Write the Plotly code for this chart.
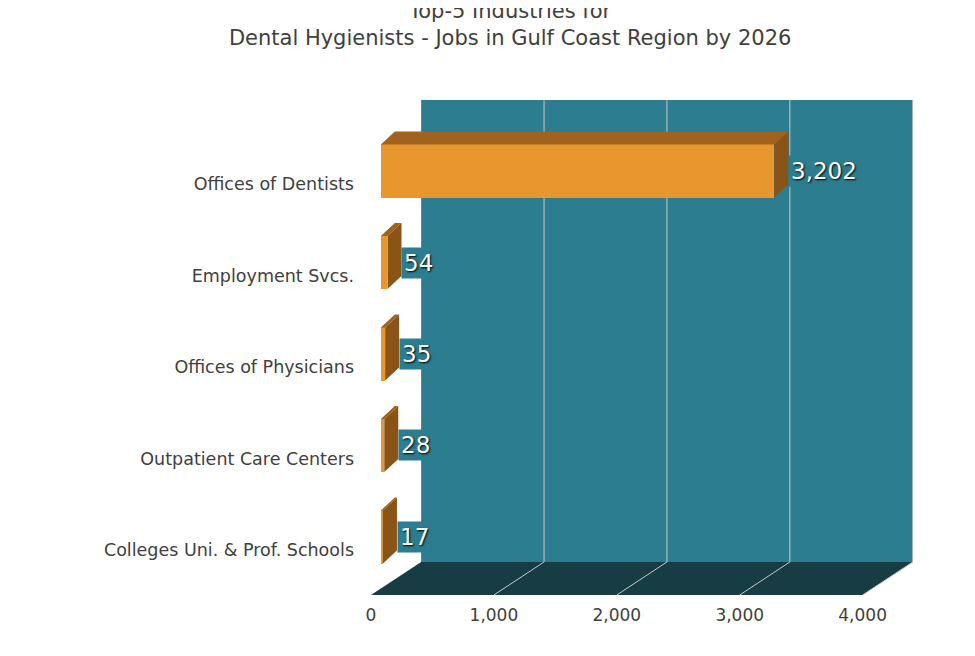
import plotly.graph_objects as go

categories = ["Offices of Dentists", "Employment Svcs.", "Offices of Physicians",
              "Outpatient Care Centers", "Colleges Uni. & Prof. Schools"]
values = [3202, 54, 35, 28, 17]
x_ticks = [0, 1000, 2000, 3000, 4000]
x_tick_labels = ["0", "1,000", "2,000", "3,000", "4,000"]

ORANGE = "#e8962e"; DARK = "#a0621c"; WALL = "#2c7d8f"; FLOOR = "#173c44"
FONT = "DejaVu Sans"

n = len(categories)
ypos = [n - 1 - i for i in range(n)]
WX, FY_BACK, FY_FRONT, YTOP = 408, -0.273, -0.634, 4.776
DX, DY, BW = 114, 0.142, 0.58

fig = go.Figure()
fig.add_trace(go.Bar(x=values, y=ypos, orientation="h", width=BW, base=80,
                     marker=dict(color=ORANGE, line=dict(width=0)), hoverinfo="skip"))

shapes = []
shapes.append(dict(type="rect", xref="x", yref="y", x0=WX, x1=4410, y0=FY_BACK, y1=YTOP,
                   fillcolor=WALL, line=dict(width=0), layer="below"))
shapes.append(dict(type="path", xref="x", yref="y",
                   path=f"M 0 {FY_FRONT} L 4000 {FY_FRONT} L 4410 {FY_BACK} L {WX} {FY_BACK} Z",
                   fillcolor=FLOOR, line=dict(width=0), layer="below"))
for t in x_ticks[1:]:
    shapes.append(dict(type="line", xref="x", yref="y", x0=t + WX, x1=t + WX, y0=FY_BACK, y1=YTOP,
                       line=dict(color="#c8c8c8", width=1), layer="below"))
    shapes.append(dict(type="line", xref="x", yref="y", x0=t, x1=t + WX, y0=FY_FRONT, y1=FY_BACK,
                       line=dict(color="#c8c8c8", width=1), layer="below"))
annotations = []
for v, y in zip(values, ypos):
    top, bot = y + BW / 2, y - BW / 2
    x0, x1 = 80, 80 + v
    shapes.append(dict(type="path", xref="x", yref="y",
                       path=f"M {x0} {top} L {x0+DX} {top+DY} L {x1+DX} {top+DY} L {x1} {top} Z",
                       fillcolor=DARK, line=dict(width=0)))
    shapes.append(dict(type="path", xref="x", yref="y",
                       path=f"M {x1} {top} L {x1+DX} {top+DY} L {x1+DX} {bot+DY} L {x1} {bot} Z",
                       fillcolor="#8a5416", line=dict(width=0)))
    annotations.append(dict(x=x1 + DX, y=y, xref="x", yref="y", xanchor="left", showarrow=False,
                            text=f"{v:,}", bgcolor=WALL, borderpad=2,
                            font=dict(family=FONT, size=23, color="white", shadow="1px 1px 2px black")))

fig.update_layout(
    width=975, height=656, paper_bgcolor="white", plot_bgcolor="white",
    margin=dict(l=363, r=70, t=92, b=69),
    title=dict(text="Top-5 Industries for<br>Dental Hygienists - Jobs in Gulf Coast Region by 2026",
               x=0.515, xanchor="center", y=0.985, yanchor="top",
               font=dict(family=FONT, size=21, color="#404040")),
    xaxis=dict(range=[0, 4410], tickvals=x_ticks, ticktext=x_tick_labels, showgrid=False,
               zeroline=False, showline=False, ticks="", ticklabelstandoff=8,
               tickfont=dict(family=FONT, size=17, color="#404040")),
    yaxis=dict(range=[FY_FRONT, YTOP], tickvals=[y - 0.142 for y in ypos], ticktext=categories,
               showgrid=False, zeroline=False, showline=False, ticks="", ticklabelstandoff=16,
               tickfont=dict(family=FONT, size=17.5, color="#404040")),
    shapes=shapes, annotations=annotations, showlegend=False, bargap=0,
)
fig.write_html("out.html")
